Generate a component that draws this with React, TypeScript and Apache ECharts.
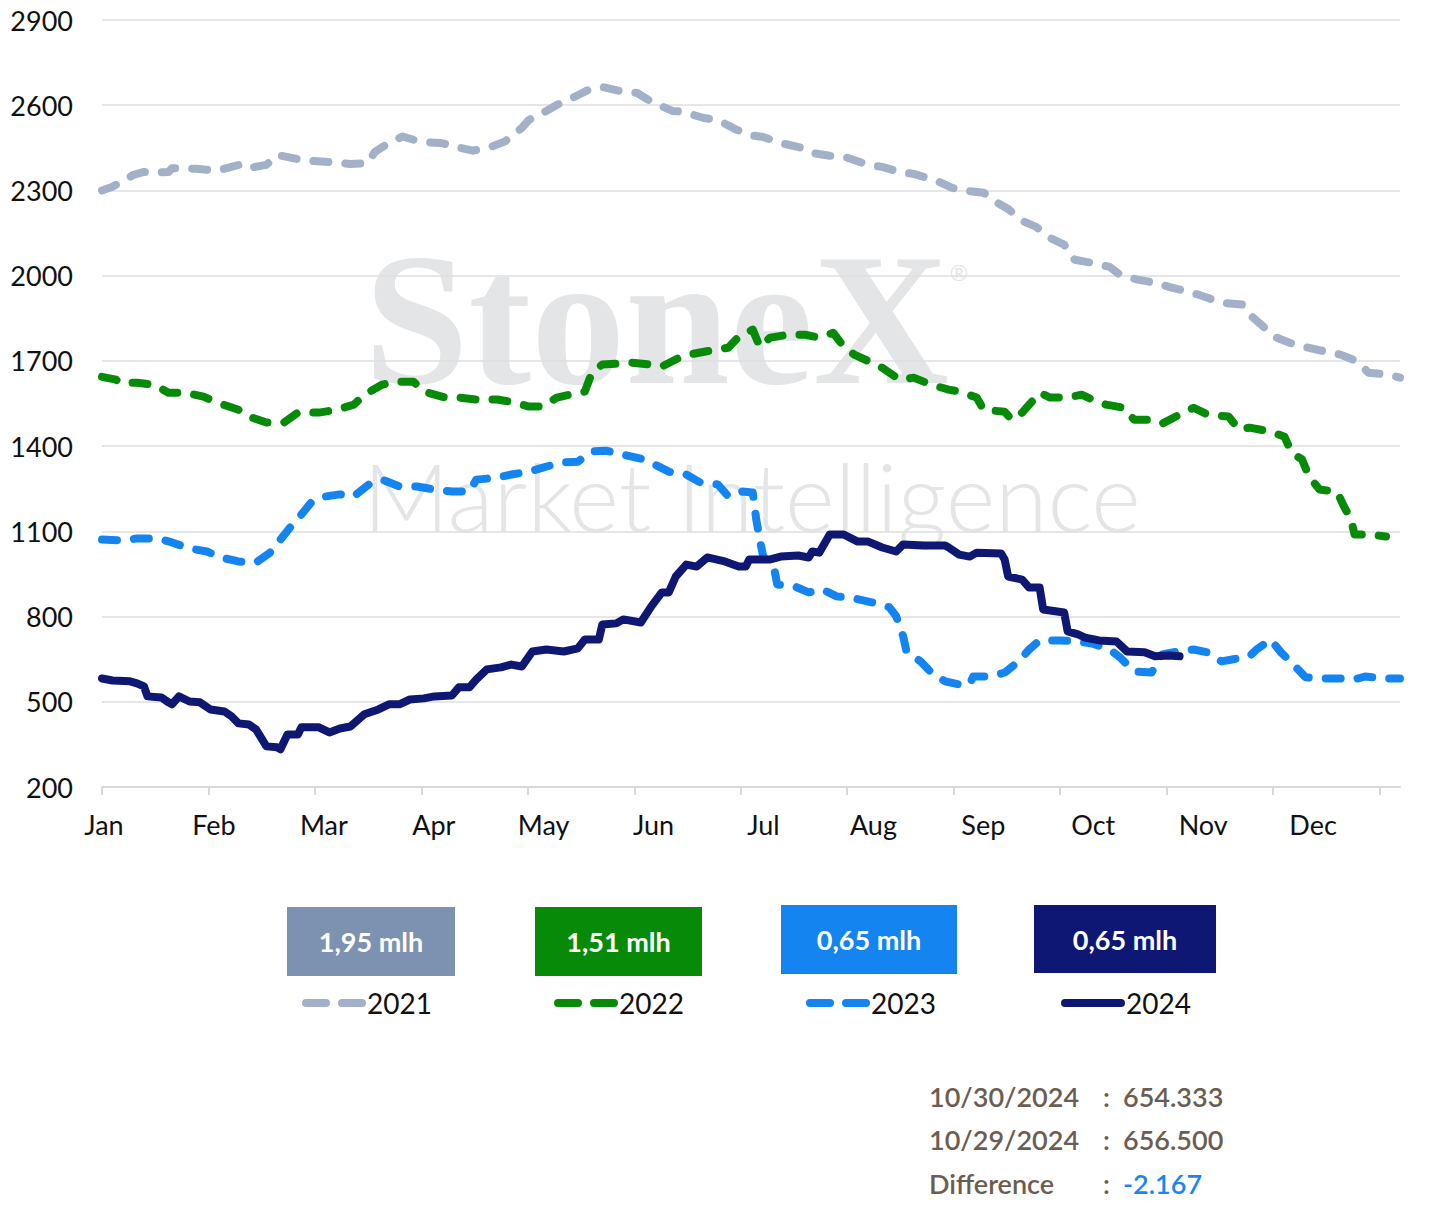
import React, { useEffect, useRef } from "react";
import * as echarts from "echarts";

const FONT = 'Lato, "Noto Sans", sans-serif';

const monthLabels = ["Jan", "Feb", "Mar", "Apr", "May", "Jun", "Jul", "Aug", "Sep", "Oct", "Nov", "Dec"];
const monthTickDays = [0, 30.43, 60.86, 91.29, 121.72, 152.15, 182.58, 213.01, 243.44, 273.87, 304.3, 334.73, 365.16];
const yMin = 200;
const yMax = 2900;
const yStep = 300;

const seriesNames = ["2021", "2022", "2023", "2024"];
const boxLabels = ["1,95 mlh", "1,51 mlh", "0,65 mlh", "0,65 mlh"];
const infoLabels = ["10/30/2024", "10/29/2024", "Difference"];
const infoValues = ["654.333", "656.500", "-2.167"];

// [day of year, value]
const series2021: [number, number][] = [
  [0, 2300], [3, 2313], [5, 2327], [9, 2355], [12, 2365], [14, 2362], [19, 2365], [20, 2378], [23, 2378], [27, 2376],
  [33, 2370], [37, 2383], [40, 2393], [42, 2379], [47, 2390], [50, 2425], [56, 2410], [60, 2404], [65, 2400], [71, 2393],
  [76, 2396], [78, 2436], [82, 2467], [86, 2490], [91, 2471], [97, 2467], [100, 2457], [106, 2440], [111, 2453], [115, 2471],
  [120, 2520], [122, 2548], [126, 2573], [130, 2601], [135, 2629], [139, 2654], [143, 2664], [148, 2650], [153, 2643], [157, 2612],
  [163, 2580], [166, 2577], [172, 2555], [176, 2548], [181, 2516], [185, 2495], [189, 2488], [194, 2467], [200, 2450], [203, 2432],
  [208, 2422], [213, 2415], [219, 2390], [223, 2383], [228, 2365], [232, 2358], [238, 2337], [243, 2309], [247, 2299], [252, 2292],
  [256, 2256], [259, 2235], [263, 2193], [267, 2172], [271, 2133], [275, 2109], [278, 2056], [283, 2045], [288, 2031], [291, 2003],
  [296, 1986], [301, 1975], [306, 1957], [311, 1943], [316, 1922], [320, 1905], [326, 1898], [328, 1863], [332, 1820], [335, 1785],
  [341, 1757], [345, 1746], [350, 1732], [354, 1722], [359, 1697], [362, 1658], [368, 1651], [371, 1641],
];

const series2022: [number, number][] = [
  [0, 1644], [4, 1634], [5, 1623], [10, 1623], [15, 1616], [19, 1588], [24, 1588], [29, 1574], [33, 1553], [39, 1528],
  [42, 1504], [47, 1483], [52, 1483], [56, 1518], [62, 1518], [67, 1528], [72, 1546], [75, 1581], [80, 1616], [84, 1627],
  [89, 1627], [92, 1592], [98, 1571], [102, 1571], [107, 1564], [113, 1564], [118, 1553], [122, 1539], [126, 1539], [130, 1571],
  [136, 1588], [138, 1592], [140, 1658], [143, 1687], [151, 1694], [157, 1687], [160, 1680], [165, 1711], [169, 1725], [175, 1739],
  [179, 1746], [182, 1785], [186, 1810], [188, 1750], [191, 1782], [196, 1792], [201, 1792], [205, 1782], [209, 1799], [212, 1750],
  [215, 1722], [220, 1694], [223, 1676], [228, 1634], [232, 1641], [237, 1616], [242, 1599], [245, 1592], [250, 1571], [252, 1528],
  [258, 1521], [260, 1493], [263, 1518], [268, 1588], [271, 1571], [276, 1571], [280, 1581], [283, 1564], [287, 1546], [292, 1535],
  [295, 1493], [299, 1493], [303, 1479], [308, 1511], [312, 1535], [316, 1511], [322, 1504], [325, 1458], [328, 1465], [334, 1451],
  [338, 1433], [340, 1377], [343, 1353], [345, 1293], [348, 1247], [353, 1240], [355, 1187], [357, 1142], [358, 1089], [362, 1089],
  [367, 1082],
];

const series2023: [number, number][] = [
  [0, 1071], [6, 1068], [10, 1075], [16, 1075], [20, 1061], [25, 1040], [30, 1029], [34, 1008], [39, 994], [44, 990],
  [48, 1025], [51, 1071], [54, 1117], [57, 1159], [60, 1205], [64, 1223], [68, 1230], [72, 1223], [77, 1272], [80, 1282],
  [85, 1258], [90, 1258], [95, 1247], [100, 1240], [105, 1240], [107, 1282], [113, 1289], [117, 1300], [122, 1310], [126, 1324],
  [131, 1342], [136, 1345], [140, 1381], [144, 1384], [149, 1370], [154, 1356], [158, 1335], [162, 1310], [167, 1300], [171, 1272],
  [176, 1265], [179, 1223], [183, 1240], [186, 1237], [187, 1142], [188, 1071], [189, 1011], [192, 976], [193, 913], [198, 906],
  [202, 885], [206, 895], [210, 871], [215, 864], [220, 850], [225, 833], [227, 801], [229, 730], [230, 674], [234, 642],
  [237, 603], [241, 572], [245, 561], [248, 561], [249, 589], [254, 589], [258, 603], [262, 642], [265, 684], [268, 716],
  [274, 716], [279, 712], [283, 705], [288, 684], [291, 656], [295, 607], [300, 603], [303, 667], [306, 674], [312, 684],
  [316, 674], [320, 642], [323, 649], [328, 660], [330, 684], [334, 719], [337, 674], [341, 625], [344, 586], [348, 582],
  [354, 582], [358, 579], [361, 589], [366, 582], [371, 582],
];

const series2024: [number, number][] = [
  [0, 582], [3, 575], [8, 572], [10, 565], [12, 554], [13, 519], [17, 515], [19, 498], [20, 491], [22, 519],
  [25, 501], [28, 498], [31, 473], [35, 466], [37, 449], [39, 424], [42, 420], [44, 403], [47, 343], [50, 340],
  [51, 333], [53, 385], [56, 385], [57, 410], [62, 410], [65, 392], [68, 406], [71, 413], [75, 456], [79, 473],
  [82, 491], [85, 491], [88, 508], [92, 512], [95, 519], [100, 522], [102, 551], [105, 551], [107, 579], [110, 614],
  [114, 621], [117, 631], [120, 624], [123, 677], [127, 684], [132, 677], [136, 688], [138, 719], [142, 719], [143, 772],
  [147, 776], [149, 790], [154, 779], [157, 836], [160, 885], [162, 885], [164, 941], [167, 983], [170, 976], [173, 1008],
  [178, 994], [182, 976], [184, 976], [185, 1001], [191, 1001], [194, 1011], [199, 1015], [202, 1008], [203, 1029], [205, 1025],
  [208, 1089], [212, 1089], [216, 1064], [219, 1064], [223, 1043], [227, 1029], [229, 1054], [235, 1050], [241, 1050], [242, 1043],
  [245, 1018], [248, 1011], [250, 1025], [257, 1022], [258, 1001], [259, 941], [263, 930], [265, 902], [268, 902], [269, 825],
  [275, 814], [276, 748], [279, 737], [281, 726], [285, 716], [290, 712], [293, 677], [298, 674], [301, 660], [305, 663],
  [308, 660],
];

const seriesData = [series2021, series2022, series2023, series2024];
const lineColors = ["#a3b1c8", "#078a07", "#1485f0", "#0e1873"];
const boxColors = ["#7d91b0", "#078a07", "#1484f0", "#0e1773"];

export default function App() {
  const ref = useRef<HTMLDivElement>(null);

  useEffect(() => {
    if (!ref.current) return;
    const chart = echarts.init(ref.current, null, { renderer: "svg" });

    const legendLefts = [297, 549, 801, 1056];
    const boxRects = [
      { x: 287, y: 907, w: 168, h: 69 },
      { x: 535, y: 907, w: 167, h: 69 },
      { x: 781, y: 905, w: 176, h: 69 },
      { x: 1034, y: 905, w: 182, h: 68 },
    ];

    const graphics: any[] = [
      {
        type: "text",
        z: -10,
        silent: true,
        style: {
          text: "StoneX",
          x: 364,
          y: 319,
          fill: "#e4e5e7",
          fontSize: 188,
          fontFamily: '"Liberation Serif", "DejaVu Serif", serif',
          fontWeight: "bold",
          align: "left",
          verticalAlign: "middle",
        },
      },
      {
        type: "text",
        z: -10,
        silent: true,
        style: {
          text: "®",
          x: 959,
          y: 272,
          fill: "#e4e5e7",
          fontSize: 22,
          fontFamily: FONT,
          align: "center",
          verticalAlign: "middle",
        },
      },
      {
        type: "text",
        z: -10,
        silent: true,
        style: {
          text: "Market Intelligence",
          x: 363,
          y: 495,
          fill: "#e4e5e7",
          fontSize: 95,
          fontFamily: FONT,
          fontWeight: 300,
          align: "left",
          verticalAlign: "middle",
        },
      },
    ];

    boxRects.forEach((b, i) => {
      graphics.push({
        type: "rect",
        shape: { x: b.x, y: b.y, width: b.w, height: b.h },
        style: { fill: boxColors[i] },
      });
      graphics.push({
        type: "text",
        style: {
          text: boxLabels[i],
          x: b.x + b.w / 2,
          y: b.y + b.h / 2,
          fill: "#ffffff",
          fontSize: 27,
          fontWeight: "bold",
          fontFamily: FONT,
          align: "center",
          verticalAlign: "middle",
        },
      });
    });

    const rowYs = [1096, 1139, 1183];
    infoLabels.forEach((lab, i) => {
      const common = { fontSize: 27, fontWeight: 600, fontFamily: FONT, verticalAlign: "middle", align: "left" };
      graphics.push({ type: "text", style: { ...common, text: lab, x: 929, y: rowYs[i], fill: "#6b5d52" } });
      graphics.push({ type: "text", style: { ...common, text: ":", x: 1103, y: rowYs[i], fill: "#6b5d52" } });
      graphics.push({
        type: "text",
        style: { ...common, text: infoValues[i], x: 1123, y: rowYs[i], fill: i === 2 ? "#1a87f0" : "#6b5d52" },
      });
    });

    const option: any = {
      animation: false,
      backgroundColor: "#ffffff",
      textStyle: { fontFamily: FONT },
      grid: [
        { left: 102, right: 37, top: 20, bottom: 419 },
        { left: 104, width: 1319, top: 20, bottom: 419 },
      ],
      xAxis: [
        {
          type: "value",
          gridIndex: 0,
          min: 0,
          max: 371,
          axisLine: { show: true, lineStyle: { color: "#d9d9d9", width: 2 } },
          axisTick: { show: true, length: 8, customValues: monthTickDays, lineStyle: { color: "#d9d9d9", width: 2 } },
          axisLabel: { show: false },
          splitLine: { show: false },
        },
        {
          type: "value",
          gridIndex: 1,
          min: 0,
          max: 12,
          interval: 1,
          axisLine: { show: false },
          axisTick: { show: false },
          splitLine: { show: false },
          axisLabel: {
            show: true,
            showMaxLabel: false,
            margin: 24,
            fontSize: 27,
            color: "#111111",
            fontFamily: FONT,
            formatter: (v: number) => monthLabels[Math.round(v)] ?? "",
          },
        },
      ],
      yAxis: [
        {
          type: "value",
          gridIndex: 0,
          min: yMin,
          max: yMax,
          interval: yStep,
          axisLine: { show: false },
          axisTick: { show: false },
          splitLine: { show: true, lineStyle: { color: "#dedede", width: 1.5 } },
          axisLabel: {
            margin: 29,
            fontSize: 27,
            color: "#111111",
            fontFamily: FONT,
            formatter: (v: number) => String(v),
          },
        },
        { type: "value", gridIndex: 1, show: false, min: 0, max: 1 },
      ],
      legend: seriesNames.map((name, i) => ({
        data: [name],
        left: legendLefts[i],
        top: 984,
        itemWidth: 56,
        itemHeight: 14,
        selectedMode: false,
        textStyle: { fontSize: 28, color: "#111111", fontFamily: FONT, padding: [0, 0, 0, 0] },
        itemStyle: { color: "rgba(0,0,0,0)", borderWidth: 0 },
        lineStyle: { width: 8, type: i < 3 ? [20, 16] : "solid", cap: "round", color: lineColors[i] },
      })),
      graphic: graphics,
      series: seriesNames.map((name, i) => ({
        name,
        type: "line",
        xAxisIndex: 0,
        yAxisIndex: 0,
        data: seriesData[i],
        symbol: "none",
        color: lineColors[i],
        z: 10 + i,
        lineStyle: {
          color: lineColors[i],
          width: 8,
          type: i < 3 ? [15, 17] : "solid",
          cap: "round",
          join: "round",
        },
      })),
    };

    chart.setOption(option);
    return () => chart.dispose();
  }, []);

  return (
    <div
      ref={ref}
      style={{ position: "fixed", left: 0, top: 0, width: 1437, height: 1206, background: "#fff" }}
    />
  );
}
